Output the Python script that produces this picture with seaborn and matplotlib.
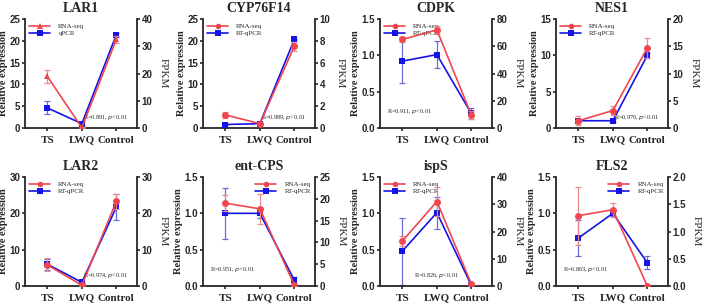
import numpy as np
import pandas as pd
import matplotlib
matplotlib.use("Agg")
import matplotlib.pyplot as plt
import seaborn as sns

# groups on the x axis
groups = ["TS", "LWQ", "Control"]

# gene names (panel titles)
genes = ["LAR1", "CYP76F14", "CDPK", "NES1", "LAR2", "ent-CPS", "ispS", "FLS2"]

# qPCR relative expression (left axis) and error
qpcr_vals = [
    [4.6, 1.0, 21.4],
    [0.8, 1.0, 20.3],
    [0.92, 1.01, 0.20],
    [1.0, 1.0, 10.0],
    [6.0, 1.0, 21.7],
    [1.0, 1.0, 0.08],
    [0.48, 1.01, 0.01],
    [0.66, 1.0, 0.32],
]
qpcr_err = [
    [1.5, 0.3, 0.5],
    [0.1, 0.1, 0.2],
    [0.30, 0.19, 0.07],
    [0.2, 0.2, 0.3],
    [1.5, 0.3, 3.5],
    [0.35, 0.07, 0.05],
    [0.46, 0.22, 0.01],
    [0.25, 0.03, 0.09],
]

# RNA-seq FPKM (right axis) and error
fpkm_vals = [
    [18.9, 0.1, 32.5],
    [1.2, 0.4, 7.5],
    [65.0, 72.0, 9.6],
    [1.33, 3.2, 14.7],
    [5.8, 0.2, 23.3],
    [19.0, 17.7, 0.2],
    [16.5, 31.0, 0.8],
    [1.29, 1.40, 0.0],
]
fpkm_err = [
    [2.4, 0.1, 1.3],
    [0.25, 0.05, 0.4],
    [2.0, 3.0, 3.0],
    [0.8, 0.8, 1.8],
    [1.8, 0.2, 2.0],
    [1.8, 3.5, 0.2],
    [1.9, 5.3, 0.3],
    [0.53, 0.13, 0.0],
]

# axis limits and ticks
left_max = [25, 25, 1.5, 15, 30, 1.5, 1.5, 1.5]
left_step = [5, 5, 0.5, 5, 10, 0.5, 0.5, 0.5]
right_max = [40, 10, 80, 20, 30, 25, 40, 2.0]
right_step = [10, 2, 20, 5, 10, 5, 10, 0.5]

qpcr_names = ["qPCR", "RT-qPCR", "RT-qPCR", "RT-qPCR", "RT-qPCR", "RT-qPCR", "RT-qPCR", "RT-qPCR"]
r_texts = ["R=0.891, ", "R=0.989, ", "R=0.911, ", "R=0.976, ", "R=0.974, ", "R=0.951, ", "R=0.826, ", "R=0.863, "]
r_pos = [(0.92, 0.08, "right"), (0.92, 0.08, "right"), (0.06, 0.14, "left"), (0.92, 0.08, "right"),
         (0.92, 0.08, "right"), (0.06, 0.14, "left"), (0.5, 0.08, "center"), (0.06, 0.14, "left")]
leg_pos = ["upper left"] * 5 + ["upper right", "upper left", "upper right"]

RED = "#f0474f"
BLUE = "#1414e6"

sns.set_style("ticks")
serif = "Liberation Serif"
sans = "Liberation Sans"

fig = plt.figure(figsize=(7.08, 3.04), dpi=100)
W, H = 708, 304
col_left = [25, 203, 380, 556]
row_top = [19, 177]
aw, ah = 112, 109

for i, gene in enumerate(genes):
    r, c = divmod(i, 4)
    ax = fig.add_axes([col_left[c] / W, 1 - (row_top[r] + ah) / H, aw / W, ah / H])
    ax2 = ax.twinx()

    df_q = pd.DataFrame({"group": groups, "val": qpcr_vals[i]})
    df_r = pd.DataFrame({"group": groups, "val": fpkm_vals[i]})
    x = np.arange(3)

    ax.errorbar(x, qpcr_vals[i], yerr=qpcr_err[i], fmt="none", ecolor="#6b6bd8",
                elinewidth=0.9, capsize=2, capthick=0.9, zorder=2)
    ax2.errorbar(x, fpkm_vals[i], yerr=fpkm_err[i], fmt="none", ecolor="#e98a8f",
                 elinewidth=0.9, capsize=2, capthick=0.9, zorder=2)
    rmark = "^" if i == 0 else "o"
    sns.lineplot(data=df_r, x="group", y="val", ax=ax2, color=RED, marker=rmark,
                 markersize=5, markeredgewidth=0, linewidth=1.2, sort=False, zorder=3)
    sns.lineplot(data=df_q, x="group", y="val", ax=ax, color=BLUE, marker="s",
                 markersize=4.5, markeredgewidth=0, linewidth=1.2, sort=False, zorder=3)

    ax.set_xlim(-0.65, 2.6)
    ax.set_ylim(0, left_max[i])
    ax2.set_ylim(0, right_max[i])
    ax.set_yticks(np.arange(0, left_max[i] + 1e-9, left_step[i]))
    ax2.set_yticks(np.arange(0, right_max[i] + 1e-9, right_step[i]))
    if left_step[i] < 1:
        ax.set_yticklabels([f"{v:.1f}" for v in ax.get_yticks()])
    else:
        ax.set_yticklabels([f"{int(v)}" for v in ax.get_yticks()])
    if right_step[i] < 1:
        ax2.set_yticklabels([f"{v:.1f}" for v in ax2.get_yticks()])
    else:
        ax2.set_yticklabels([f"{int(v)}" for v in ax2.get_yticks()])
    ax.set_xticks(x)
    ax.set_xticklabels(groups, fontfamily=serif, fontweight="bold", fontsize=8)
    for lab in ax.get_yticklabels() + ax2.get_yticklabels():
        lab.set_fontfamily(sans)
        lab.set_fontweight("bold")
        lab.set_fontsize(7)

    ax.set_xlabel("")
    ax.set_ylabel("Relative expression", fontfamily=serif, fontweight="bold", fontsize=7.5, labelpad=1)
    ax2.set_ylabel("FPKM", fontfamily=serif, fontsize=8, rotation=270, va="bottom", labelpad=4)
    ax.set_title(gene, fontfamily=serif, fontweight="bold", fontsize=10, pad=5)

    for a in (ax, ax2):
        a.spines["top"].set_visible(False)
        for s in ("left", "right", "bottom"):
            a.spines[s].set_linewidth(1.3)
        a.tick_params(width=1.2, length=2.5, pad=1)
    ax.tick_params(axis="x", pad=3)
    ax2.spines["left"].set_visible(False)
    ax2.spines["bottom"].set_visible(False)
    ax.spines["right"].set_visible(False)

    tx, ty, ha = r_pos[i]
    ax.text(tx, ty, r_texts[i] + "$\\it{p}$<0.01", transform=ax.transAxes, ha=ha,
            fontfamily=serif, fontsize=4.5)

    handles = [
        plt.Line2D([], [], color=RED, marker=rmark, markersize=4, markeredgewidth=0, linewidth=1.2),
        plt.Line2D([], [], color=BLUE, marker="s", markersize=4, markeredgewidth=0, linewidth=1.2),
    ]
    ax.legend(handles, ["RNA-seq", qpcr_names[i]], loc=leg_pos[i], frameon=False,
              prop={"family": serif, "size": 5}, handlelength=3, borderaxespad=0.2,
              labelspacing=0.2, handletextpad=1.2)

fig.savefig("out.png", dpi=100)
